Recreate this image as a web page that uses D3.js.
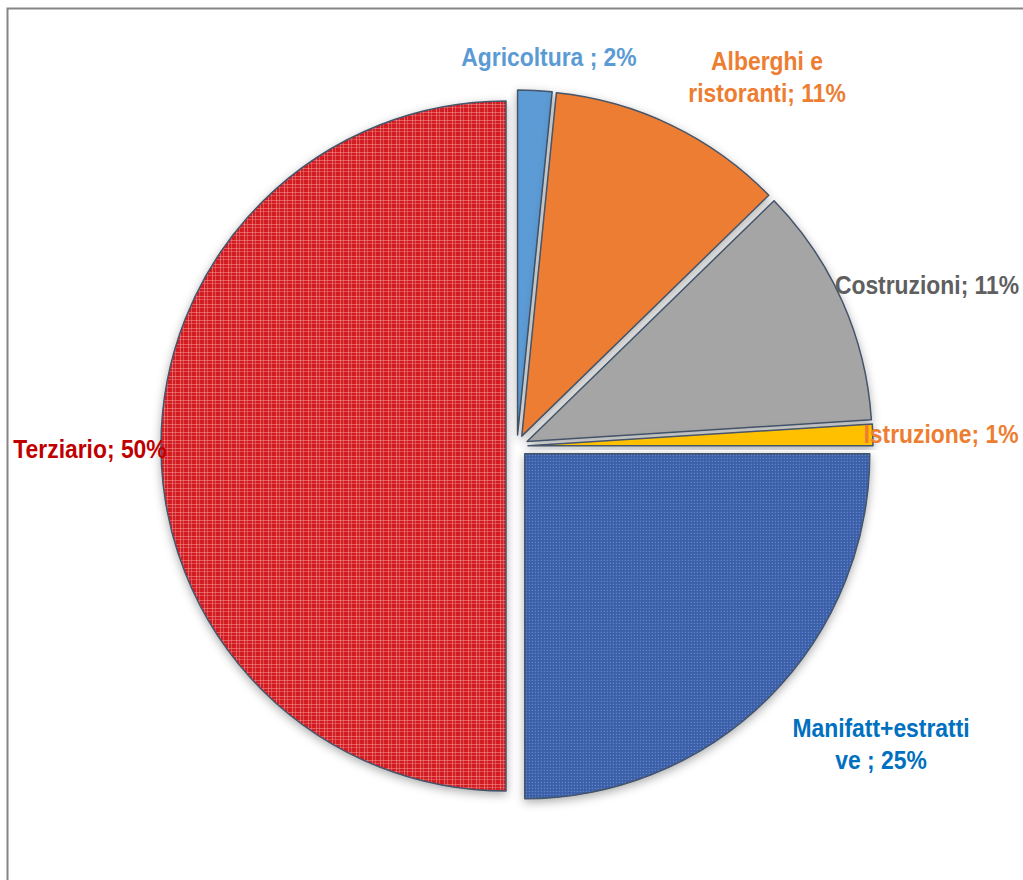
<!DOCTYPE html>
<html>
<head>
<meta charset="utf-8">
<script src="https://cdn.jsdelivr.net/npm/d3@7"></script>
<style>
  html, body { margin: 0; padding: 0; background: #fff; }
  svg { display: block; }
  .lbl { font-family: "Liberation Sans", Arial, sans-serif; font-weight: bold; }
</style>
</head>
<body>
<svg id="chart" width="1023" height="880"></svg>
<script>
// ---- data ----
const categories = ["Agricoltura ", "Alberghi e ristoranti", "Costruzioni", "Istruzione", "Manifatt+estrattive ", "Terziario"];
const values = [1.6, 11.1, 11.3, 1.0, 25.0, 50.0];
const labelBreaks = [null, 11, null, null, 17, null]; // character index where label wraps

// ---- styles / layout ----
const fills = ["#5B9BD5", "#ED7D31", "#A5A5A5", "#FFC000", "url(#patBlue)", "url(#patRed)"];
const labelColors = ["#5B9BD5", "#ED7D31", "#5F5F5F", "#ED7D31", "#0070C0", "#C00000"];
const labelPos = [[549, 66], [767, 70], [927, 294], [941, 443], [881, 737], [90, 458]];
const cx = 517, cy = 446, R = 345, explode = 11, fontSize = 26, lineH = 32, narrow = 0.88;

const svg = d3.select("#chart");
const defs = svg.append("defs");

// shadow
const f = defs.append("filter").attr("id", "shadow").attr("x", "-20%").attr("y", "-20%").attr("width", "140%").attr("height", "140%");
f.append("feDropShadow").attr("dx", 0).attr("dy", 3).attr("stdDeviation", 5).attr("flood-color", "#000").attr("flood-opacity", 0.32);

// red plaid pattern
const pr = defs.append("pattern").attr("id", "patRed").attr("patternUnits", "userSpaceOnUse").attr("width", 8).attr("height", 8);
pr.append("rect").attr("width", 8).attr("height", 8).attr("fill", "#D31C20");
pr.append("rect").attr("x", 2).attr("width", 1).attr("height", 8).attr("fill", "#EE8C8C").attr("opacity", 0.6);
pr.append("rect").attr("x", 5).attr("width", 1).attr("height", 8).attr("fill", "#EE8C8C").attr("opacity", 0.45);
pr.append("rect").attr("y", 2).attr("width", 8).attr("height", 1).attr("fill", "#EE8C8C").attr("opacity", 0.6);
pr.append("rect").attr("y", 5).attr("width", 8).attr("height", 1).attr("fill", "#EE8C8C").attr("opacity", 0.45);

// blue dotted pattern
const pb = defs.append("pattern").attr("id", "patBlue").attr("patternUnits", "userSpaceOnUse").attr("width", 3).attr("height", 3);
pb.append("rect").attr("width", 3).attr("height", 3).attr("fill", "#3A5EA9");
pb.append("rect").attr("x", 1).attr("y", 1).attr("width", 1).attr("height", 1).attr("fill", "#7E9ED6");

// frame
svg.append("rect").attr("x", 7.5).attr("y", 8.5).attr("width", 1100).attr("height", 1000)
  .attr("fill", "none").attr("stroke", "#858585").attr("stroke-width", 2);

const pie = d3.pie().sort(null).value(d => d)(values);
const arc = d3.arc().innerRadius(0).outerRadius(R);

const g = svg.append("g").attr("transform", `translate(${cx},${cy})`);
g.selectAll("path.slice").data(pie).join("path")
  .attr("class", "slice")
  .attr("d", arc)
  .attr("transform", d => {
    const m = (d.startAngle + d.endAngle) / 2;
    return `translate(${explode * Math.sin(m)},${-explode * Math.cos(m)})`;
  })
  .attr("fill", (d, i) => fills[i])
  .attr("stroke", "#44546A")
  .attr("stroke-width", 1.5)
  .attr("stroke-linejoin", "round")
  .attr("filter", "url(#shadow)");

// labels
categories.forEach((c, i) => {
  const txt = c + "; " + Math.round(values[i]) + "%";
  const lines = labelBreaks[i] == null ? [txt] : [txt.slice(0, labelBreaks[i]).trimEnd(), txt.slice(labelBreaks[i]).trimStart()];
  const t = svg.append("text").attr("class", "lbl")
    .attr("transform", `translate(${labelPos[i][0]},${labelPos[i][1]}) scale(${narrow},1)`)
    .attr("text-anchor", "middle")
    .attr("font-size", fontSize)
    .attr("fill", labelColors[i]);
  lines.forEach((ln, k) => {
    t.append("tspan").attr("x", 0).attr("dy", k === 0 ? 0 : lineH).text(ln);
  });
});
</script>
</body>
</html>
